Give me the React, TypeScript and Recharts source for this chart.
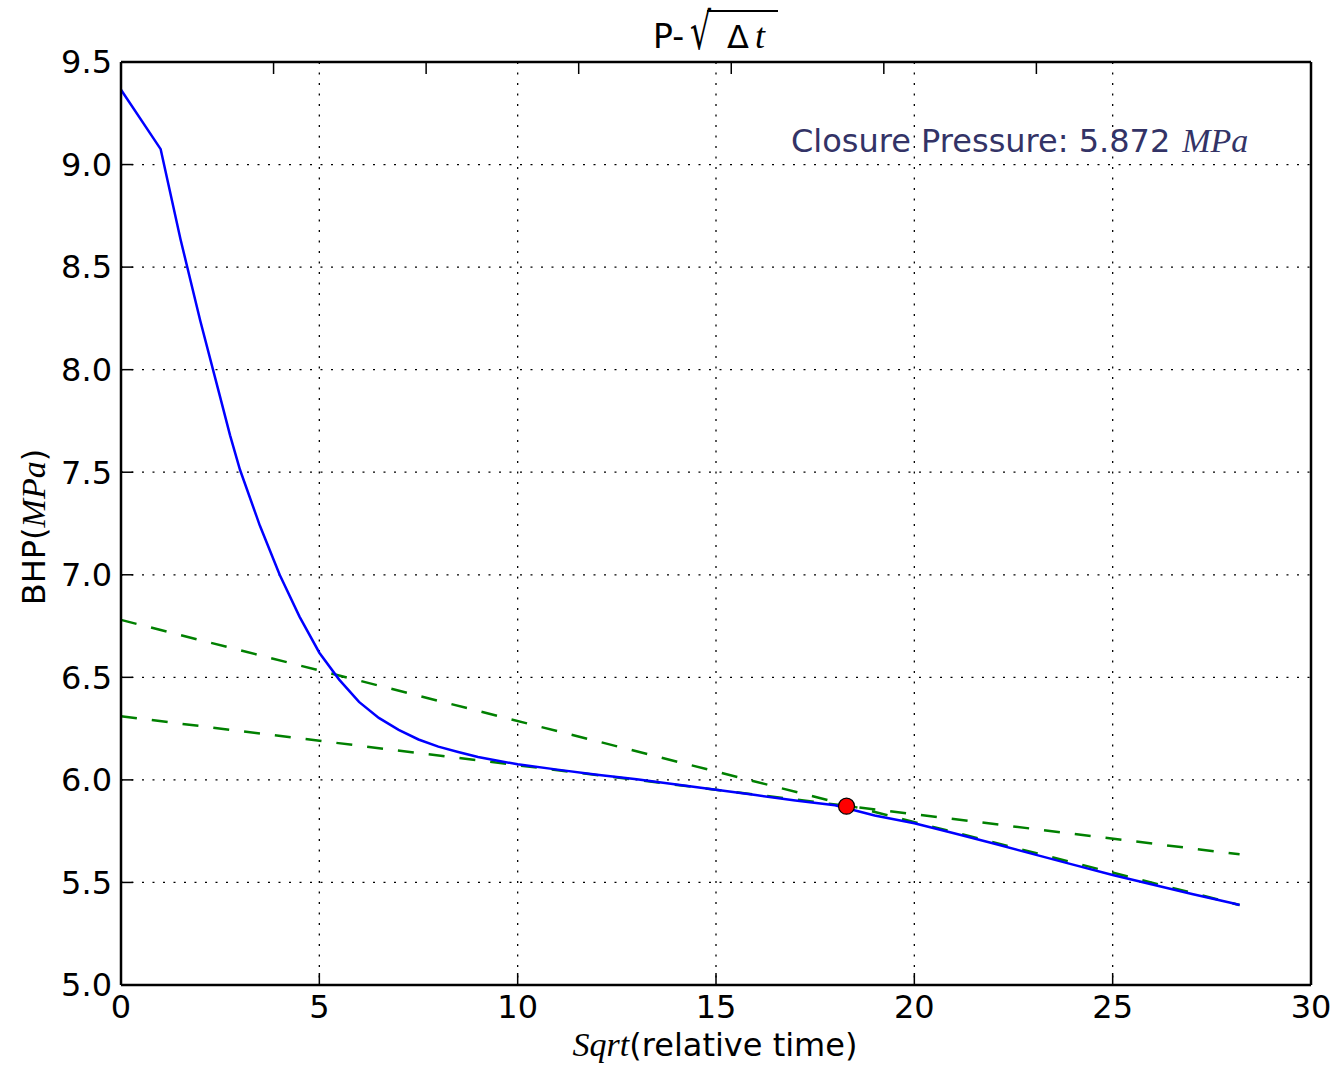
import { CartesianGrid, Line, LineChart, ReferenceDot, XAxis, YAxis } from "recharts";

// sqrt(relative time) samples and measured bottom-hole pressure (MPa)
const sqrtTime = [
  0, 1, 1.5, 2, 2.5, 2.75, 3, 3.5, 4, 4.5, 5, 5.5, 6, 6.5, 7, 7.5, 8, 8.5, 9, 9.5, 10,
  11, 12, 13, 14, 15, 16, 17, 18, 19, 20, 21, 22, 23, 24, 25, 26, 27, 28, 28.2,
];
const bhp = [
  9.365, 9.075, 8.636, 8.237, 7.866, 7.68, 7.512, 7.24, 7.0, 6.796, 6.62, 6.489, 6.38, 6.302, 6.244, 6.197, 6.162, 6.136, 6.112, 6.093, 6.076,
  6.05, 6.025, 6.003, 5.978, 5.952, 5.926, 5.9, 5.876, 5.826, 5.789, 5.74, 5.69, 5.638, 5.587, 5.536, 5.49, 5.444, 5.4, 5.39,
];

// tangent lines fitted before / after closure
const fitX = [0, 28.2];
const fitLate = [6.78, 5.39];
const fitEarly = [6.31, 5.637];

const closureX = 18.29;
const closureP = 5.872;

const xTicks = [0, 5, 10, 15, 20, 25, 30];
const yTicks = [5.0, 5.5, 6.0, 6.5, 7.0, 7.5, 8.0, 8.5, 9.0, 9.5];

const W = 1339;
const H = 1067;
const SANS = "'DejaVu Sans', sans-serif";
const MATH = "'Liberation Serif', 'DejaVu Serif', serif";

const curve = sqrtTime.map((x, i) => ({ x, p: bhp[i] }));
const lateLine = fitX.map((x, i) => ({ x, p: fitLate[i] }));
const earlyLine = fitX.map((x, i) => ({ x, p: fitEarly[i] }));

const tickFont = { fontFamily: SANS, fontSize: 32, fill: "#000" };
const axisLine = { stroke: "#000", strokeWidth: 2.5 };
const tickLine = { stroke: "#000", strokeWidth: 1.5 };
const noLabel = () => <g />;

export default function App() {
  return (
    <div style={{ position: "absolute", left: 0, top: 0, width: W, height: H, background: "#fff" }}>
      <LineChart
        width={W}
        height={H}
        data={curve}
        margin={{ top: 61, right: 27, bottom: 0, left: 0 }}
      >
        <CartesianGrid stroke="#000" strokeWidth={1.3} strokeDasharray="2 8.5" />
        <XAxis
          dataKey="x"
          type="number"
          domain={[0, 30]}
          ticks={xTicks}
          height={82}
          tick={tickFont}
          tickSize={-12}
          tickMargin={22}
          axisLine={axisLine}
          tickLine={tickLine}
        />
        <XAxis
          xAxisId="top"
          orientation="top"
          type="number"
          domain={[0, 30]}
          ticks={xTicks}
          height={1}
          tick={noLabel}
          tickSize={-12}
          axisLine={axisLine}
          tickLine={tickLine}
        />
        <YAxis
          type="number"
          domain={[5, 9.5]}
          ticks={yTicks}
          width={121}
          tick={tickFont}
          tickFormatter={(v: number) => v.toFixed(1)}
          tickSize={-12}
          tickMargin={21}
          axisLine={axisLine}
          tickLine={tickLine}
        />
        <YAxis
          yAxisId="right"
          orientation="right"
          type="number"
          domain={[5, 9.5]}
          ticks={yTicks}
          width={1}
          tick={noLabel}
          tickSize={-12}
          axisLine={axisLine}
          tickLine={tickLine}
        />
        <Line
          data={lateLine}
          dataKey="p"
          type="linear"
          stroke="#008000"
          strokeWidth={2.5}
          strokeDasharray="16 15"
          dot={false}
          isAnimationActive={false}
        />
        <Line
          data={earlyLine}
          dataKey="p"
          type="linear"
          stroke="#008000"
          strokeWidth={2.5}
          strokeDasharray="16 15"
          dot={false}
          isAnimationActive={false}
        />
        <Line
          dataKey="p"
          type="linear"
          stroke="#0000ff"
          strokeWidth={2.5}
          dot={false}
          isAnimationActive={false}
        />
        <ReferenceDot x={closureX} y={closureP} r={8} fill="#ff0000" stroke="#000" strokeWidth={1.2} />
      </LineChart>

      <svg
        width={W}
        height={H}
        style={{ position: "absolute", left: 0, top: 0, pointerEvents: "none" }}
      >
        {/* title: P-sqrt(delta t) */}
        <text x={653} y={48} fontFamily={SANS} fontSize={33} fill="#000">
          P-
        </text>
        <text
          x={0}
          y={0}
          transform="translate(690 49) scale(1.1 1.7)"
          fontFamily={SANS}
          fontSize={30}
          fill="#000"
        >
          √
        </text>
        <text x={727} y={48} fontFamily={SANS} fontSize={32} fill="#000">
          Δ
        </text>
        <text x={755} y={48} fontFamily={MATH} fontStyle="italic" fontSize={36} fill="#000">
          t
        </text>
        <line x1={707} y1={11} x2={778} y2={11} stroke="#000" strokeWidth={1.8} />

        <text x={791} y={152} fontFamily={SANS} fontSize={32} fill="#333366">
          Closure Pressure: {closureP.toFixed(3)}
          <tspan dx={12} fontFamily={MATH} fontStyle="italic" fontSize={34}>MPa</tspan>
        </text>

        <text
          x={45}
          y={527}
          transform="rotate(-90 45 527)"
          textAnchor="middle"
          fontFamily={SANS}
          fontSize={32}
          fill="#000"
        >
          BHP(<tspan fontFamily={MATH} fontStyle="italic" fontSize={34}>MPa</tspan>)
        </text>

        <text x={715} y={1056} textAnchor="middle" fontFamily={SANS} fontSize={32} fill="#000">
          <tspan fontFamily={MATH} fontStyle="italic" fontSize={34}>Sqrt</tspan>(relative time)
        </text>
      </svg>
    </div>
  );
}
